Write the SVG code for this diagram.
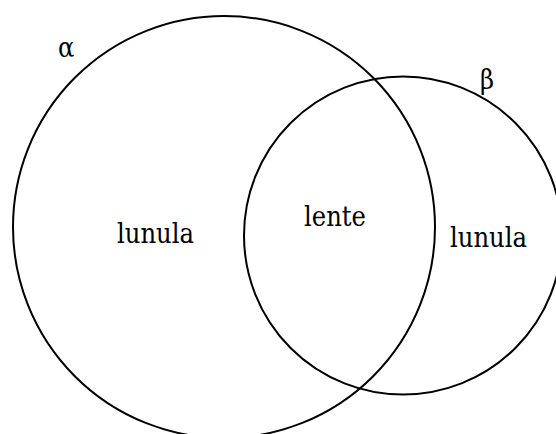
<svg xmlns="http://www.w3.org/2000/svg" width="556" height="434" viewBox="0 0 556 434">
  <style>
    .set { fill: none; stroke: #000; stroke-width: 2; }
    .lbl { font-family: "DejaVu Serif Condensed", "DejaVu Serif", serif; font-stretch: condensed; font-size: 27px; fill: #000; }
  </style>
  <rect width="556" height="434" fill="#fff"/>
  <g id="alpha">
    <circle class="set" cx="224" cy="227" r="211"/>
    <text class="lbl" x="58" y="57" font-size="30">α</text>
  </g>
  <g id="beta">
    <circle class="set" cx="403" cy="235.5" r="159"/>
    <text class="lbl" x="480" y="89" font-size="28">β</text>
  </g>
  <g id="regions">
    <text class="lbl" x="117" y="243">lunula</text>
    <text class="lbl" x="304" y="226">lente</text>
    <text class="lbl" x="450" y="247">lunula</text>
  </g>
</svg>
